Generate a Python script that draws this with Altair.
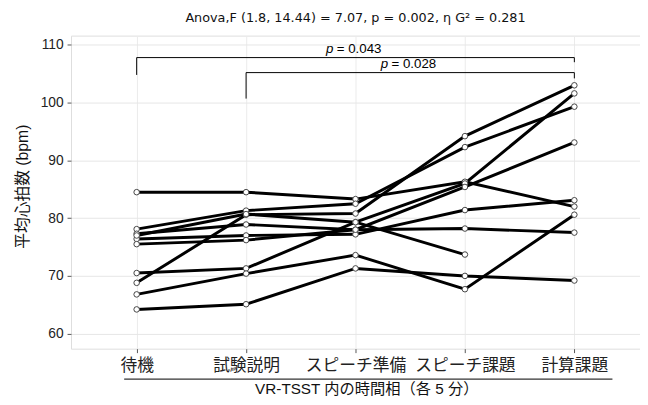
import altair as alt
import pandas as pd

phases = ["待機", "試験説明", "スピーチ準備", "スピーチ課題", "計算課題"]

subj_ids = ["s01", "s02", "s03", "s04", "s05", "s06", "s07", "s08", "s09", "s10"]
s01 = [84.5, 84.5, 83.3, 86.3, 82.0]
s02 = [78.1, 81.3, 82.5, 92.3, 99.3]
s03 = [68.8, 80.6, 80.8, 94.2, 103.0]
s04 = [70.5, 71.3, 79.3, 86.0, 101.6]
s05 = [77.3, 78.9, 78.0, 85.4, 93.1]
s06 = [76.4, 77.0, 77.2, 81.4, 83.1]
s07 = [75.5, 76.2, 78.0, 78.2, 77.5]
s08 = [77.0, 80.7, 79.3, 73.7, None]
s09 = [66.8, 70.4, 73.6, 67.7, 80.6]
s10 = [64.2, 65.1, 71.3, 70.0, 69.2]
series = [s01, s02, s03, s04, s05, s06, s07, s08, s09, s10]

# significance brackets: phase index from / to, bar level, leg ends, label
br_from = [0, 1]
br_to = [4, 4]
br_level = [107.8, 105.2]
br_left_end = [104.8, 100.7]
br_right_end = [107.0, 104.2]
br_text_x = [2.0, 2.5]
br_text_y = [109.2, 106.6]
br_pval = ["= 0.043", "= 0.028"]

title_text = "Anova,F (1.8, 14.44) = 7.07, p = 0.002,  η G² = 0.281"
x_title = "VR-TSST 内の時間相（各 5 分）"
y_title = "平均心拍数 (bpm)"

FONT = "Liberation Sans, Noto Sans CJK JP, sans-serif"
TFONT = "DejaVu Sans, Noto Sans CJK JP, sans-serif"

rows = []
for sid, vals in zip(subj_ids, series):
    for i, v in enumerate(vals):
        if v is not None:
            rows.append({"subject": sid, "idx": i, "phase": phases[i], "bpm": v})
df = pd.DataFrame(rows)

label_array = "[" + ",".join("'" + p + "'" for p in phases) + "]"

xscale = alt.Scale(domain=[-0.6, len(phases) - 1 + 0.6], nice=False, zero=False)
yscale = alt.Scale(domain=[57.4, 111.6], nice=False, zero=False)

x_enc = alt.X(
    "idx:Q", scale=xscale,
    axis=alt.Axis(
        title=x_title, values=list(range(len(phases))),
        labelExpr=label_array + "[datum.value]",
        labelAngle=0, labelFontSize=17, labelFont=FONT,
        labelColor="#222", labelPadding=5, tickSize=4, tickColor="#555",
        domain=False, grid=True, gridColor="#ebebeb", labelFlush=False, labelOverlap=False,
        titleFont=FONT, titleFontSize=15.5, titleFontWeight="normal", titleColor="#111",
        titleX=300, titleY=41, titleAnchor="middle", titleAlign="center",
        titleBaseline="middle",
    ),
)
y_enc = alt.Y(
    "bpm:Q", scale=yscale,
    axis=alt.Axis(
        title=y_title, values=[60, 65, 70, 75, 80, 85, 90, 95, 100, 105, 110],
        labelExpr="datum.value % 10 == 0 ? datum.label : ''",
        labelFontSize=14, labelFont=FONT, labelColor="#222", labelPadding=4,
        tickSize=4,
        tickColor=alt.condition("datum.value % 10 == 0", alt.value("#555"), alt.value("transparent")),
        gridColor=alt.condition("datum.value % 10 == 0", alt.value("#e6e6e6"), alt.value("#f4f4f4")),
        domain=False, grid=True,
        titleFont=FONT, titleFontSize=16, titleFontWeight="normal", titleColor="#111",
        titleX=-49, titleY=153, titleAngle=270, titleAlign="center", titleBaseline="middle",
    ),
)

base = alt.Chart(df)
lines = base.mark_line(color="#000", strokeWidth=3).encode(x=x_enc, y=y_enc, detail="subject:N")
points = base.mark_point(
    shape="circle", filled=False, fill="white", fillOpacity=1, opacity=1,
    stroke="#444", strokeWidth=1, size=32,
).encode(x=alt.X("idx:Q", scale=xscale), y=alt.Y("bpm:Q", scale=yscale))

bdf = pd.DataFrame({
    "from": br_from, "to": br_to, "level": br_level, "lend": br_left_end,
    "rend": br_right_end, "tx": br_text_x, "ty": br_text_y, "pval": br_pval,
})
bbase = alt.Chart(bdf)
bar_h = bbase.mark_rule(color="#000", strokeWidth=1).encode(
    x=alt.X("from:Q", scale=xscale), x2="to:Q", y=alt.Y("level:Q", scale=yscale))
leg_l = bbase.mark_rule(color="#000", strokeWidth=1).encode(
    x=alt.X("from:Q", scale=xscale), y=alt.Y("level:Q", scale=yscale), y2="lend:Q")
leg_r = bbase.mark_rule(color="#000", strokeWidth=1).encode(
    x=alt.X("to:Q", scale=xscale), y=alt.Y("level:Q", scale=yscale), y2="rend:Q")

txt_p = bbase.mark_text(
    text="p", fontStyle="italic", font=FONT, fontSize=13.5, align="left", baseline="middle",
    dx=-30, color="#000"
).encode(x=alt.X("tx:Q", scale=xscale), y=alt.Y("ty:Q", scale=yscale))
txt_v = bbase.mark_text(
    font=FONT, fontSize=13.5, align="left", baseline="middle", dx=-19, color="#000"
).encode(x=alt.X("tx:Q", scale=xscale), y=alt.Y("ty:Q", scale=yscale), text="pval:N")

underline = alt.Chart(bdf.iloc[[0]]).mark_rule(color="#333", strokeWidth=1.2).encode(
    x=alt.value(54), x2=alt.value(550), y=alt.value(349))

chart = alt.layer(
    lines, points, bar_h, leg_l, leg_r, txt_p, txt_v, underline
).properties(
    width=578, height=318,
    padding={"left": 64, "top": 25, "right": 0, "bottom": 46},
    autosize=alt.AutoSizeParams(type="none"),
    title=alt.TitleParams(
        text=title_text, anchor="middle", font=TFONT, fontSize=13, fontWeight="normal",
        color="#111", offset=11, frame="group",
    ),
).configure_view(stroke="#8a8a8a", strokeWidth=1).configure(background="white")

chart.save("out.html", embed_options={"renderer": "svg", "actions": False})
